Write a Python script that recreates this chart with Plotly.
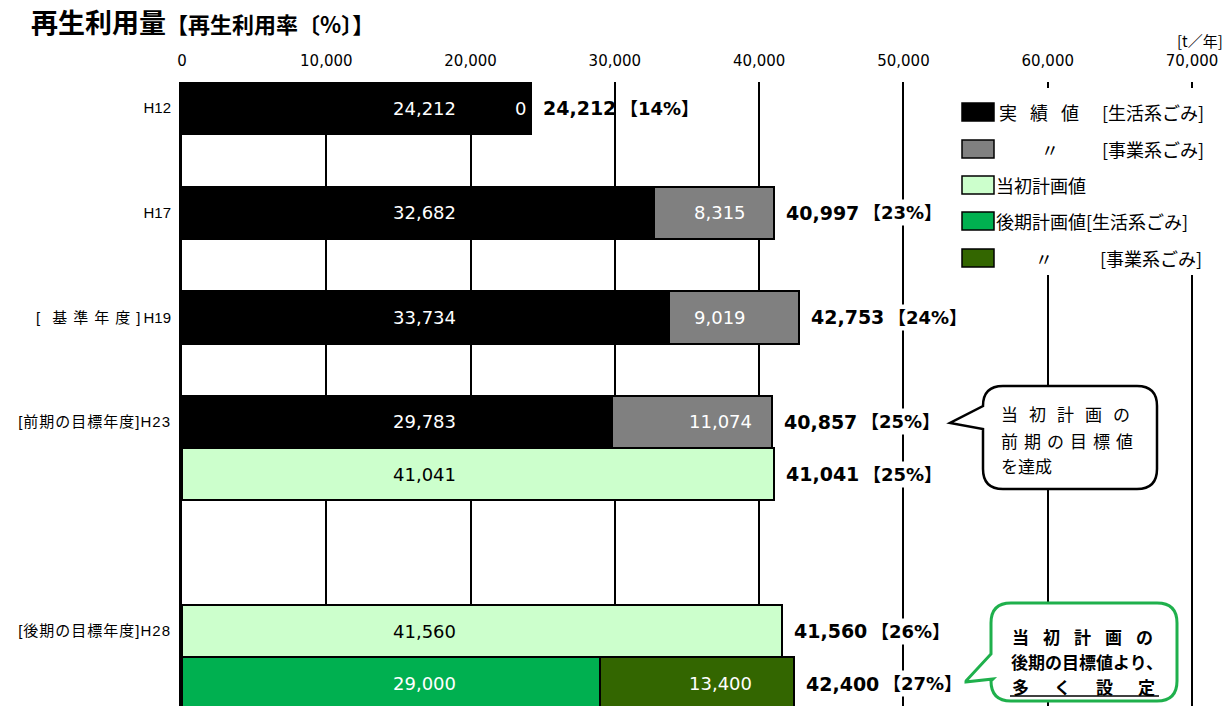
import plotly.graph_objects as go

# ---------------- data ----------------
row_keys = ["H12", "gap1", "H17", "gap2", "H19", "gap3",
            "H23_actual", "H23_plan", "gap4", "gap5", "H28_plan", "H28_later"]
tick_keys = ["H12", "H17", "H19", "H23_actual", "H28_plan"]
tick_labels = [
    "H12",
    "H17",
    "<span style='letter-spacing:12px'>[</span><span style='letter-spacing:6px'>基準年度</span>"
    "<span style='letter-spacing:3px'>]</span>H19",
    "<span style='letter-spacing:1px'>[前期の目標年度]H23</span>",
    "<span style='letter-spacing:1px'>[後期の目標年度]H28</span>",
]

actual_keys = ["H12", "H17", "H19", "H23_actual"]
actual_household = [24212, 32682, 33734, 29783]
actual_business = [0, 8315, 9019, 11074]

initial_plan_keys = ["H23_plan", "H28_plan"]
initial_plan = [41041, 41560]

later_plan_keys = ["H28_later"]
later_household = [29000]
later_business = [13400]

rate_keys = ["H12", "H17", "H19", "H23_actual", "H23_plan", "H28_plan", "H28_later"]
rates = [14, 23, 24, 25, 25, 26, 27]

x_ticks = [0, 10000, 20000, 30000, 40000, 50000, 60000, 70000]

# ---------------- styles ----------------
W, H = 1229, 706
ML, MR, MT, MB = 182, 0, 82, 0
XMAX = 72563
LABEL_X1 = 16840   # fixed label position of first segment (as in source)
LABEL_X2 = 37300   # fixed label position of second segment
LAT = "DejaVu Sans, Noto Sans CJK JP"
JP = "Noto Sans CJK JP"
ARIAL = "Arial, Liberation Sans, Noto Sans CJK JP"
BLACK, GRAY, LGREEN, GREEN, DGREEN = "#000000", "#808080", "#CCFFCC", "#00B050", "#336600"
CALLOUT_GREEN = "#1FB04C"


def px(x):
    return (x - ML) / (W - ML - MR)


def py(y):
    return 1 - (y - MT) / (H - MT - MB)


fig = go.Figure()
line = dict(color="black", width=2)
fig.add_trace(go.Bar(y=actual_keys, x=actual_household, orientation="h",
                     marker=dict(color=BLACK, line=line), name="実績値[生活系ごみ]"))
fig.add_trace(go.Bar(y=actual_keys, x=actual_business, orientation="h",
                     marker=dict(color=GRAY, line=line), name="実績値[事業系ごみ]"))
fig.add_trace(go.Bar(y=initial_plan_keys, x=initial_plan, orientation="h",
                     marker=dict(color=LGREEN, line=line), name="当初計画値"))
fig.add_trace(go.Bar(y=later_plan_keys, x=later_household, orientation="h",
                     marker=dict(color=GREEN, line=line), name="後期計画値[生活系ごみ]"))
fig.add_trace(go.Bar(y=later_plan_keys, x=later_business, orientation="h",
                     marker=dict(color=DGREEN, line=line), name="後期計画値[事業系ごみ]"))

ann = []
shapes = []


def seg_label(key, v, x, color):
    ann.append(dict(x=x, y=key, xref="x", yref="y", text=f"{v:,}", showarrow=False,
                    font=dict(family=LAT, size=18, color=color)))


for k, a, b in zip(actual_keys, actual_household, actual_business):
    seg_label(k, a, LABEL_X1, "white")
    if b == 0:
        ann.append(dict(x=a, y=k, xref="x", yref="y", text=f"{b:,}", showarrow=False,
                        xanchor="right", xshift=-3, font=dict(family=LAT, size=18, color="white")))
    else:
        seg_label(k, b, LABEL_X2, "white")
for k, v in zip(initial_plan_keys, initial_plan):
    seg_label(k, v, LABEL_X1, "black")
for k, a, b in zip(later_plan_keys, later_household, later_business):
    seg_label(k, a, LABEL_X1, "white")
    seg_label(k, b, LABEL_X2, "white")

# totals
totals = {}
for k, a, b in zip(actual_keys, actual_household, actual_business):
    totals[k] = a + b
for k, v in zip(initial_plan_keys, initial_plan):
    totals[k] = v
for k, a, b in zip(later_plan_keys, later_household, later_business):
    totals[k] = a + b

for k, r in zip(rate_keys, rates):
    t = totals[k]
    ann.append(dict(x=t, y=k, xref="x", yref="y", text=f"<b>{t:,}</b>", showarrow=False,
                    xanchor="left", xshift=10, font=dict(family=LAT, size=19, color="black")))
    ann.append(dict(x=t, y=k, xref="x", yref="y", text=f"<b>【{r}%】</b>", showarrow=False,
                    xanchor="left", xshift=86, bgcolor="white", borderpad=2,
                    font=dict(family=LAT, size=18, color="black")))

# title & unit
ann.append(dict(x=px(29), y=py(0), xref="paper", yref="paper", xanchor="left", yanchor="top",
                text="<b>再生利用量<span style='font-size:22px'>【再生利用率〔%〕】</span></b>",
                showarrow=False, font=dict(family=JP, size=27, color="black")))
ann.append(dict(x=px(1225), y=py(40), xref="paper", yref="paper", xanchor="right", yanchor="middle",
                text="[t／年]", showarrow=False, font=dict(family=JP, size=15, color="black")))

# legend (custom)
shapes.append(dict(type="rect", xref="paper", yref="paper", layer="above",
                   x0=px(950), x1=px(1224), y0=py(88), y1=py(275),
                   fillcolor="white", line=dict(width=0)))
leg_colors = [BLACK, GRAY, LGREEN, GREEN, DGREEN]
leg_y = [112, 149, 185, 221, 258]
for c, yc in zip(leg_colors, leg_y):
    shapes.append(dict(type="rect", xref="paper", yref="paper", layer="above",
                       x0=px(962), x1=px(994), y0=py(yc - 9), y1=py(yc + 9),
                       fillcolor=c, line=dict(color="black", width=1.5)))


def leg_text(x, yc, text, anchor="left"):
    ann.append(dict(x=px(x), y=py(yc), xref="paper", yref="paper", xanchor=anchor, yanchor="middle",
                    text=text, showarrow=False, font=dict(family=JP, size=18, color="black")))


leg_text(997, leg_y[0], "<span style='letter-spacing:13px'>実績値</span>")
leg_text(1100, leg_y[0], "[生活系ごみ]")
leg_text(1050, leg_y[1], "〃", "center")
leg_text(1100, leg_y[1], "[事業系ごみ]")
leg_text(994, leg_y[2], "当初計画値")
leg_text(994, leg_y[3], "後期計画値[生活系ごみ]")
leg_text(1044, leg_y[4], "〃", "center")
leg_text(1098, leg_y[4], "[事業系ごみ]")


def callout(L, T, R, B, r, tail):
    p = (f"M {px(L + r)},{py(T)} L {px(R - r)},{py(T)} Q {px(R)},{py(T)} {px(R)},{py(T + r)} "
         f"L {px(R)},{py(B - r)} Q {px(R)},{py(B)} {px(R - r)},{py(B)} L {px(L + r)},{py(B)} "
         f"Q {px(L)},{py(B)} {px(L)},{py(B - r)} ")
    for (a, b) in tail:
        p += f"L {px(a)},{py(b)} "
    p += f"L {px(L)},{py(T + r)} Q {px(L)},{py(T)} {px(L + r)},{py(T)} Z"
    return p


shapes.append(dict(type="path", xref="paper", yref="paper", layer="above",
                   path=callout(983, 386, 1157, 489, 20, [(983, 429), (950, 423)]),
                   fillcolor="white", line=dict(color="black", width=2.5)))
shapes.append(dict(type="path", xref="paper", yref="paper", layer="above",
                   path=callout(991, 603, 1177, 701, 20, [(993, 679), (965, 682), (991, 654)]),
                   fillcolor="white", line=dict(color=CALLOUT_GREEN, width=3)))


def c_text(x, yc, text, bold=False):
    t = f"<b>{text}</b>" if bold else text
    ann.append(dict(x=px(x), y=py(yc), xref="paper", yref="paper", xanchor="left", yanchor="middle",
                    text=t, showarrow=False, font=dict(family=JP, size=17, color="black")))


c_text(999, 413, "<span style='letter-spacing:11px'>当初計画の</span>")
c_text(999, 440, "<span style='letter-spacing:6px'>前期の目標値</span>")
c_text(999, 465, "を達成")
c_text(1010, 636, "<span style='letter-spacing:14px'>当初計画の</span>", True)
c_text(1009, 661, "後期の目標値より、", True)
c_text(1010, 686, "<span style='letter-spacing:25px'>多く設定</span>", True)
shapes.append(dict(type="line", xref="paper", yref="paper", layer="above",
                   x0=px(1010), x1=px(1159), y0=py(696), y1=py(696),
                   line=dict(color="black", width=1.5)))

fig.update_layout(
    width=W, height=H, autosize=False,
    margin=dict(l=ML, r=MR, t=MT, b=MB, pad=0),
    paper_bgcolor="white", plot_bgcolor="white",
    barmode="stack", bargap=0, showlegend=False,
    annotations=ann, shapes=shapes,
    xaxis=dict(side="top", range=[0, XMAX], tickvals=x_ticks,
               ticktext=[f"{v:,}" for v in x_ticks], showgrid=True, gridcolor="black",
               gridwidth=2, zeroline=False, showline=False, ticks="",
               ticklabelstandoff=12, tickfont=dict(family=LAT, size=15, color="black")),
    yaxis=dict(type="category", categoryorder="array", categoryarray=row_keys,
               range=[11.43, -0.5], tickvals=tick_keys, ticktext=tick_labels,
               showgrid=False, zeroline=False, showline=True, linecolor="black", linewidth=3,
               ticks="", ticklabelstandoff=5,
               tickfont=dict(family=ARIAL, size=15, color="black")),
)

fig.write_html("out.html")
